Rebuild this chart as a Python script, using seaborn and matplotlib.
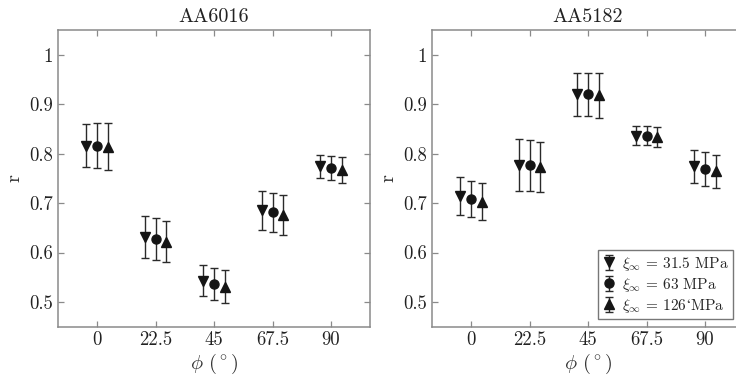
import matplotlib
matplotlib.use('Agg')
import matplotlib.pyplot as plt
import seaborn as sns
import numpy as np

# angles from rolling direction (deg)
phi = [0, 22.5, 45, 67.5, 90]
series_labels = ['$\\xi_\\infty$ = 31.5 MPa', '$\\xi_\\infty$ = 63 MPa',
                 '$\\xi_\\infty$ = 126$\u2018$MPa']

# AA6016 Lankford coefficients and error bars
r6016_low = [0.816, 0.631, 0.543, 0.685, 0.774]
r6016_mid = [0.816, 0.627, 0.537, 0.681, 0.771]
r6016_high = [0.814, 0.622, 0.531, 0.676, 0.767]
e6016_low = [0.044, 0.042, 0.031, 0.040, 0.023]
e6016_mid = [0.046, 0.043, 0.032, 0.040, 0.025]
e6016_high = [0.048, 0.042, 0.033, 0.041, 0.026]

# AA5182
r5182_low = [0.714, 0.777, 0.920, 0.836, 0.774]
r5182_mid = [0.708, 0.776, 0.920, 0.836, 0.769]
r5182_high = [0.703, 0.773, 0.918, 0.833, 0.764]
e5182_low = [0.038, 0.052, 0.043, 0.019, 0.034]
e5182_mid = [0.036, 0.052, 0.044, 0.019, 0.034]
e5182_high = [0.037, 0.051, 0.045, 0.020, 0.034]

xticklabels = ['0', '22.5', '45', '67.5', '90']
yticks = [0.5, 0.6, 0.7, 0.8, 0.9, 1.0]
yticklabels = ['0.5', '0.6', '0.7', '0.8', '0.9', '1']

sns.set_theme(style='ticks')
plt.rcParams['font.family'] = ['cmr10', 'DejaVu Serif']
plt.rcParams['mathtext.fontset'] = 'cm'
plt.rcParams['axes.formatter.use_mathtext'] = True

fig = plt.figure(figsize=(7.36, 3.81), dpi=100)
ax1 = fig.add_axes([58 / 736, 1 - 326.7 / 381, 312 / 736, 296.7 / 381])
ax2 = fig.add_axes([432 / 736, 1 - 326.7 / 381, 312 / 736, 296.7 / 381])

markers = ['v', 'o', '^']
msizes = [7, 6.5, 7]
offsets = [-4.2, 0, 4.2]
spine_col = '#8a8a8a'


def draw(ax, rs, es, title):
    for r, e, m, ms, off, lab in zip(rs, es, markers, msizes, offsets, series_labels):
        ax.errorbar(np.array(phi) + off, r, yerr=e, fmt=m, ms=ms, color='#151515',
                    ecolor='#2a2a2a', elinewidth=1.0, capsize=2.8, capthick=1.0, label=lab)
    ax.set_xlim(-15, 105)
    ax.set_ylim(0.45, 1.05)
    ax.set_xticks(phi)
    ax.set_xticklabels(xticklabels)
    ax.set_yticks(yticks)
    ax.set_yticklabels(yticklabels)
    ax.tick_params(direction='in', top=True, right=True, length=4, width=0.9,
                   color=spine_col, labelsize=13.5, labelcolor='#222222', pad=3.5)
    for s in ax.spines.values():
        s.set_color(spine_col)
        s.set_linewidth(1.1)
    ax.set_title(title, fontsize=14.5, pad=6, color='#222222')
    ax.set_xlabel('$\\phi$ ($^\\circ$)', fontsize=14.5, color='#333333', labelpad=2)
    ax.set_ylabel('r', fontsize=14.5, color='#333333', labelpad=4)


draw(ax1, [r6016_low, r6016_mid, r6016_high], [e6016_low, e6016_mid, e6016_high], 'AA6016')
draw(ax2, [r5182_low, r5182_mid, r5182_high], [e5182_low, e5182_mid, e5182_high], 'AA5182')

leg = ax2.legend(loc='lower left', bbox_to_anchor=(0.531, 0.025), fontsize=11,
                 frameon=True, fancybox=False, labelspacing=0.2, handletextpad=0.4,
                 borderpad=0.3, handlelength=0.9, borderaxespad=0)
leg.get_frame().set_edgecolor('#555555')
leg.get_frame().set_linewidth(1.0)

fig.savefig('out.png', dpi=100)
